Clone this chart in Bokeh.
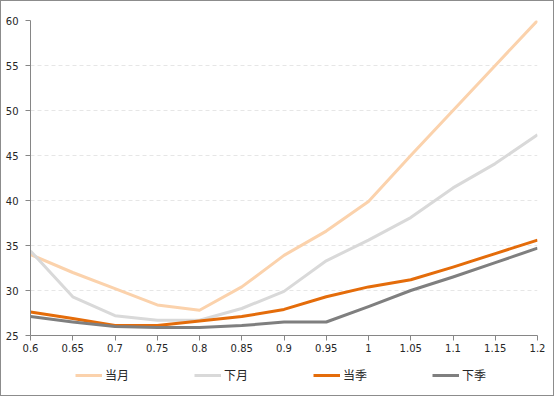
from bokeh.plotting import figure
from bokeh.models import Legend, LegendItem, FixedTicker, Range1d
from bokeh.layouts import column
from bokeh.embed import file_html
from bokeh.resources import INLINE

x_vals = [0.6, 0.65, 0.7, 0.75, 0.8, 0.85, 0.9, 0.95, 1.0, 1.05, 1.1, 1.15, 1.2]
x_labels = ["0.6", "0.65", "0.7", "0.75", "0.8", "0.85", "0.9", "0.95", "1", "1.05", "1.1", "1.15", "1.2"]
y_ticks = [25, 30, 35, 40, 45, 50, 55, 60]

series_names = ["当月", "下月", "当季", "下季"]
dangyue = [34.0, 32.0, 30.2, 28.4, 27.8, 30.4, 33.9, 36.6, 39.9, 45.0, 50.0, 55.0, 60.0]
xiayue = [34.4, 29.3, 27.2, 26.7, 26.7, 28.0, 29.9, 33.3, 35.6, 38.1, 41.4, 44.1, 47.3]
dangji = [27.6, 26.9, 26.1, 26.1, 26.6, 27.1, 27.9, 29.3, 30.4, 31.2, 32.6, 34.1, 35.6]
xiaji = [27.1, 26.5, 26.0, 25.9, 25.9, 26.1, 26.5, 26.5, 28.2, 30.0, 31.5, 33.1, 34.7]
colors = ["#FBD2AC", "#D9D9D9", "#E46C0A", "#7F7F7F"]
all_series = [dangyue, xiayue, dangji, xiaji]

W = 552
H_MAIN, H_LEG = 360, 34

p = figure(width=W, height=H_MAIN, output_backend="svg", toolbar_location=None,
           x_range=Range1d(0.6, 1.2), y_range=Range1d(25, 60),
           min_border_left=29, min_border_right=16, min_border_top=19, min_border_bottom=26)
p.outline_line_color = None
p.background_fill_color = "white"
p.border_fill_color = "white"

for name, ys, c in zip(series_names, all_series, colors):
    p.line(x_vals, ys, line_color=c, line_width=3, line_join="round")

p.xaxis.ticker = FixedTicker(ticks=x_vals)
p.xaxis.major_label_overrides = {v: l for v, l in zip(x_vals, x_labels)}
p.yaxis.ticker = FixedTicker(ticks=y_ticks)
p.yaxis.major_label_overrides = {v: str(v) for v in y_ticks}

for ax in (p.xaxis[0], p.yaxis[0]):
    ax.axis_line_color = "#868686"
    ax.major_tick_line_color = "#868686"
    ax.major_tick_out = 5
    ax.major_tick_in = 0
    ax.minor_tick_line_color = None
    ax.major_label_text_font = "DejaVu Sans"
    ax.major_label_text_font_size = "10px"
    ax.major_label_text_color = "#262626"
p.xaxis.major_label_standoff = 3
p.yaxis.major_label_standoff = 7

p.xgrid.grid_line_color = None
p.ygrid.grid_line_color = "#E6E6E6"
p.ygrid.grid_line_dash = "4 3"
p.ygrid.grid_line_width = 1

# legend strip: same series, drawn out of view so only the legend shows
lg = figure(width=W, height=H_LEG, output_backend="svg", toolbar_location=None,
            x_range=Range1d(0, 1), y_range=Range1d(0, 1),
            min_border=0, x_axis_type=None, y_axis_type=None)
lg.outline_line_color = None
lg.xgrid.visible = False
lg.ygrid.visible = False
items = []
for name, ys, c in zip(series_names, all_series, colors):
    r = lg.line(x_vals, ys, line_color=c, line_width=3)
    items.append(LegendItem(label=name, renderers=[r]))

legend = Legend(items=items, orientation="horizontal", location=(45, 12),
                glyph_width=27, glyph_height=14, label_standoff=3, spacing=65,
                padding=2, margin=0, border_line_color=None,
                background_fill_alpha=0,
                label_text_font="Noto Sans CJK SC", label_text_font_size="12px",
                label_text_color="#262626")
lg.add_layout(legend)

layout = column(p, lg, spacing=0)
layout.styles = {"border": "1px solid #8C8C8C"}

open("out.html", "w").write(file_html(layout, INLINE))
